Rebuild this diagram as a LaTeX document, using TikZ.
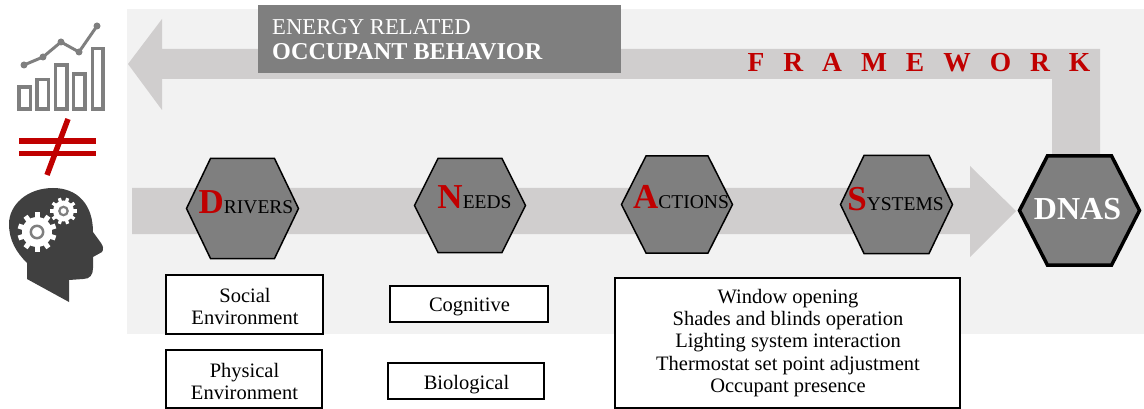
\documentclass[tikz,border=0pt]{standalone}
\usepackage{fontspec}
\setmainfont{Liberation Serif}
\newfontfamily\spacedfont[LetterSpace=69,BoldFont={Liberation Serif Bold}]{Liberation Serif}

\definecolor{panelgray}{HTML}{F2F2F2}
\definecolor{arrowgray}{HTML}{D0CECE}
\definecolor{hexgray}{HTML}{7F7F7F}
\definecolor{headgray}{HTML}{404040}
\definecolor{framered}{HTML}{C00000}

\newcommand{\hexword}[2]{{\fontsize{35}{35}\selectfont\bfseries\color{framered}#1}{\fontsize{19.5}{19.5}\selectfont #2}}

\tikzset{
	hexline/.style={draw=black, line width=1.5pt, fill=hexgray},
	hexlabel/.style={anchor=base, inner sep=0pt, text=black},
	listbox/.style={draw=black, line width=1.5pt, fill=white, inner sep=0pt},
	listtext/.style={inner sep=0pt, align=center, font=\fontsize{20.5}{22.2}\selectfont},
	barbox/.style={draw=hexgray, line width=3.2pt},
	plusline/.style={draw=framered, line width=5.5pt},
	toothline/.style={draw=white, line width=5pt}
}

\begin{document}
\begin{tikzpicture}[x=1pt,y=-1pt]
\useasboundingbox (0,0) rectangle (1144,409);

% Panel
\fill[panelgray] (127,9) rectangle (1144,334);

% Return arrow
\fill[arrowgray] (1100,49) -- (1100,156) -- (1052,156) -- (1052,79) -- (162,79) -- (162,110) -- (128,64) -- (162,19) -- (162,49) -- cycle;

% Forward arrow
\fill[arrowgray] (132,188) -- (970,188) -- (970,166) -- (1016,211) -- (970,257) -- (970,234) -- (132,234) -- cycle;

% Title
\node [fill=hexgray,
	minimum width=363pt,
	minimum height=68pt,
	inner sep=0pt] (titlebox) at (439.5,39){};
\node [anchor=west,
	text=white,
	inner sep=0pt,
	font=\fontsize{22.7}{22.7}\selectfont] (titletop) at (272,27){ENERGY RELATED};
\node [anchor=west,
	text=white,
	inner sep=0pt,
	font=\fontsize{24.2}{24.2}\selectfont\bfseries] (titlebottom) at (272,52){OCCUPANT BEHAVIOR};

\node [text=framered,
	inner sep=0pt,
	font=\spacedfont\fontsize{27.5}{27.5}\selectfont\bfseries] (framelabel) at (919,63){FRAMEWORK};

% Hexagons
\foreach \cx/\cy/\hw/\hh/\fl in {242.5/208.5/56/50/32, 470/205.5/55.5/47/32, 677/204.5/55.5/48.5/31, 896.5/204.5/56/49/32.5}
	\draw[hexline] (\cx-\hw,\cy) -- (\cx-\fl,\cy-\hh) -- (\cx+\fl,\cy-\hh) -- (\cx+\hw,\cy) -- (\cx+\fl,\cy+\hh) -- (\cx-\fl,\cy+\hh) -- cycle;
\draw[hexline, line width=3.5pt] (1019.5,210.5) -- (1047.5,155.8) -- (1111.5,155.8) -- (1139.5,210.5) -- (1111.5,265.2) -- (1047.5,265.2) -- cycle;

\node [hexlabel] (driversword) at (246,213.5){\hexword{D}{RIVERS}};
\node [hexlabel] (needsword) at (474.5,208.5){\hexword{N}{EEDS}};
\node [hexlabel] (actionsword) at (681,208){\hexword{A}{CTIONS}};
\node [hexlabel] (systemsword) at (895.5,210.5){\hexword{S}{YSTEMS}};
\node [hexlabel, text=white, font=\fontsize{32}{32}\selectfont\bfseries] (dnasword) at (1077.5,219){DNAS};

% Lists
\node [listbox, minimum width=157pt, minimum height=59pt] (social) at (244.5,304.5){};
\node [listbox, minimum width=156pt, minimum height=58pt] (physical) at (244,379){};
\node [listbox, minimum width=158pt, minimum height=36pt] (cognitive) at (469,304){};
\node [listbox, minimum width=156pt, minimum height=36pt] (biological) at (466,381){};
\node [listbox, minimum width=345pt, minimum height=130pt] (actionlist) at (787.5,343){};

\node [listtext] (socialtext) at (245,306.5){Social\\Environment};
\node [listtext] (physicaltext) at (244.5,381.5){Physical\\Environment};
\node [listtext] (cognitivetext) at (469.5,306.5){Cognitive};
\node [listtext] (biologicaltext) at (466.5,384.5){Biological};
\node [listtext] (actiontext) at (788,343){Window opening\\Shades and blinds operation\\Lighting system interaction\\Thermostat set point adjustment\\Occupant presence};

% Chart icon
\draw[barbox] (19,87) rectangle (30.5,109);
\draw[barbox] (37,79.5) rectangle (48.5,109);
\draw[barbox] (55.5,65) rectangle (67,109);
\draw[barbox] (73.5,74) rectangle (85,109);
\draw[barbox] (92.5,48.5) rectangle (103,109);
\draw[hexgray, line width=3pt] (24,65) -- (43,57) -- (61,42) -- (79,52) -- (97,26);
\foreach \px/\py in {24/65,43/57,61/42,79/52,97/26}
	\fill[hexgray] (\px,\py) circle (3.5pt);

% Not equal
\draw[plusline] (19,141) -- (96,141);
\draw[plusline] (19,153.5) -- (96,153.5);
\draw[plusline] (68,119) -- (47,175);

% Head icon
\fill[headgray] (69,302) -- (69,280) -- (83,279)
	.. controls (90,279) and (93,275) .. (93,268)
	-- (93,257) -- (102,252)
	.. controls (104,249) and (103,246) .. (101,243)
	-- (93,232)
	.. controls (93,205) and (78,188) .. (53,188)
	.. controls (27,188) and (9,205) .. (9,224)
	.. controls (9,240) and (16,252) .. (27,263)
	-- (27,279) -- cycle;

% Gears
\foreach \a in {0,36,...,324}
	\draw[toothline] (37,232) ++(\a+18:13pt) -- ++(\a+18:6.5pt);
\fill[white] (37,232) circle (15pt);
\draw[hexgray, line width=2.5pt] (37,232) circle (6.2pt);
\foreach \a in {0,36,...,324}
	\draw[toothline, line width=3.2pt] (63.5,211) ++(\a:9pt) -- ++(\a:4.5pt);
\fill[white] (63.5,211) circle (10.5pt);
\draw[hexgray, line width=2.2pt] (63.5,211) circle (4.2pt);

\end{tikzpicture}
\end{document}
